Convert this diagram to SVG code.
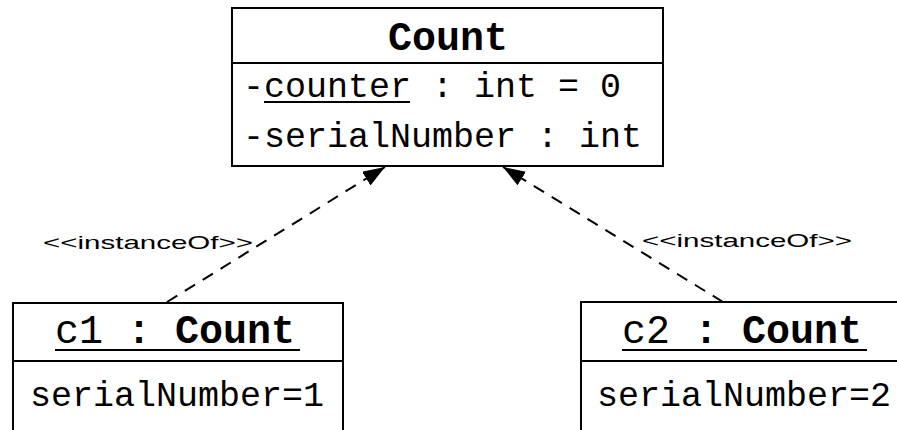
<svg xmlns="http://www.w3.org/2000/svg" width="897" height="430" viewBox="0 0 897 430">
<style>
.box{fill:#fff;stroke:#000;stroke-width:2}
.sep{stroke:#000;stroke-width:2}
.mono{font-family:"Liberation Mono","Courier New",monospace;fill:#000}
.b{font-weight:bold}
.conn{fill:none;stroke:#000;stroke-width:2;stroke-dasharray:12 9}
.lbl{font-family:"Liberation Sans",Arial,sans-serif;font-size:19px;fill:#000}
</style>
<defs>
<marker id="arr" markerUnits="userSpaceOnUse" markerWidth="24" markerHeight="18" refX="22" refY="8" orient="auto">
<path d="M0,0 L22,8 L0,16 Z" fill="#000"/>
</marker>
</defs>
<rect width="897" height="430" fill="#fff"/>
<g id="connectors">
<line class="conn" x1="167" y1="302" x2="385" y2="167" marker-end="url(#arr)"/>
<line class="conn" x1="723" y1="302" x2="503" y2="167" marker-end="url(#arr)"/>
<text class="lbl" x="43" y="249" textLength="210" lengthAdjust="spacingAndGlyphs">&lt;&lt;instanceOf&gt;&gt;</text>
<text class="lbl" x="642" y="247" textLength="210" lengthAdjust="spacingAndGlyphs">&lt;&lt;instanceOf&gt;&gt;</text>
</g>
<g id="Count">
<rect class="box" x="232" y="8" width="431" height="158"/>
<line class="sep" x1="232" y1="63" x2="663" y2="63"/>
<text class="mono b" x="448" y="50" font-size="40" text-anchor="middle">Count</text>
<text class="mono" x="243" y="97" font-size="35" xml:space="preserve">-counter : int = 0</text>
<line class="sep" x1="264" y1="102" x2="410" y2="102"/>
<text class="mono" x="243" y="147" font-size="35" xml:space="preserve">-serialNumber : int</text>
</g>
<g id="c1">
<rect class="box" x="13" y="303" width="330" height="200"/>
<line class="sep" x1="13" y1="361" x2="343" y2="361"/>
<text class="mono" x="55" y="343" font-size="40" xml:space="preserve">c1 <tspan class="b">: Count</tspan></text>
<line class="sep" x1="55" y1="350" x2="300" y2="350"/>
<text class="mono" x="30" y="406" font-size="35">serialNumber=1</text>
</g>
<g id="c2">
<rect class="box" x="581" y="302" width="340" height="200"/>
<line class="sep" x1="581" y1="361" x2="897" y2="361"/>
<text class="mono" x="622" y="343" font-size="40" xml:space="preserve">c2 <tspan class="b">: Count</tspan></text>
<line class="sep" x1="622" y1="350" x2="867" y2="350"/>
<text class="mono" x="597" y="406" font-size="35">serialNumber=2</text>
</g>
</svg>
